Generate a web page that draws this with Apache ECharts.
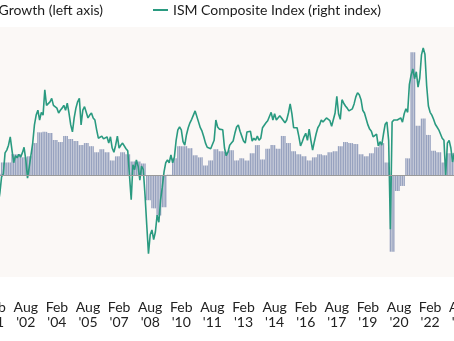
<!DOCTYPE html>
<html>
<head>
<meta charset="utf-8">
<script src="https://cdn.jsdelivr.net/npm/echarts/dist/echarts.min.js"></script>
<style>
html,body{margin:0;padding:0;background:#ffffff;}
#chart{width:454px;height:341px;}
</style>
</head>
<body>
<div id="chart"></div>
<script>
// Months shown on the category axis: Jan 2001 .. Dec 2023
const monthNames = ['Jan','Feb','Mar','Apr','May','Jun','Jul','Aug','Sep','Oct','Nov','Dec'];
const firstYear = 2001, lastYear = 2023;
const categories = [];
for (let y = firstYear; y <= lastYear; y++) {
  for (let m = 0; m < 12; m++) categories.push(monthNames[m] + " '" + String(y).slice(2));
}

const tickLabels = ["Feb '01","Aug '02","Feb '04","Aug '05","Feb '07","Aug '08","Feb '10","Aug '11",
  "Feb '13","Aug '14","Feb '16","Aug '17","Feb '19","Aug '20","Feb '22","Aug '23"];

// Quarterly GDP growth (%), each quarter drawn over three monthly bars; first quarter starts at month index 2 (Mar '01)
const gdpStartIndex = 2;
const gdpGrowth = [0.2,
  1.3,1.3,2.1,2.1,1.8,1.9,3.2,4.25,4.3,4.2,
  3.5,3.3,3.9,3.6,3.4,3.0,3.2,2.9,2.3,2.6,
  2.3,1.5,1.9,2.3,2.1,1.4,1.4,1.2,-2.4,-3.2,
  -3.9,-3.1,0.1,1.7,2.9,2.9,2.7,2.0,1.8,1.0,
  1.5,2.6,2.4,2.35,2.5,1.5,1.7,1.5,2.2,3.0,
  1.6,2.65,3.0,2.65,3.9,3.2,2.4,2.1,1.9,1.5,
  1.8,2.1,2.0,2.3,2.4,2.9,3.3,3.2,3.1,2.1,
  1.9,2.2,2.8,3.2,1.3,-7.45,-1.5,-1.0,1.7,12.1,
  4.9,5.6,4.0,2.45,2.3,1.3,2.2,2.2];

// Monthly ISM composite index, starting at month index 3 (Apr '01)
const ismStartIndex = 3;
const ismComposite = [
  42.9,44.6,46.9,47.3,50.3,50.7,51.4,52.6,50.7,48.9,
  49.9,49.6,50.1,49.7,50.3,51.1,49.3,46.7,48.3,50.0,
  51.7,54.3,55.7,56.4,55.0,56.1,55.7,59.3,57.1,57.1,
  57.6,58.1,57.1,57.0,56.7,56.0,56.4,56.7,57.1,56.4,
  57.4,56.0,54.3,53.3,55.3,56.7,57.6,58.1,54.3,56.4,
  56.9,56.7,55.3,55.7,56.0,55.3,55.0,53.6,52.4,52.4,
  52.7,52.3,52.4,52.6,51.7,52.6,51.0,50.4,51.4,52.7,
  51.0,51.4,51.7,51.7,50.9,50.6,50.4,43.6,48.6,47.9,
  49.3,48.4,46.4,48.4,47.9,44.3,40.0,35.9,38.6,39.3,
  37.9,39.0,41.4,40.4,43.6,45.4,47.6,48.9,49.3,48.9,
  50.0,48.9,49.7,52.1,53.6,54.0,53.6,51.9,51.4,52.9,
  53.9,54.6,55.1,55.7,56.3,56.1,54.7,53.9,53.4,52.6,
  51.7,51.1,50.9,50.9,50.7,52.1,55.0,54.0,53.7,53.6,
  53.6,51.0,49.9,50.4,51.4,51.7,52.0,53.1,54.0,54.3,
  53.4,52.7,52.0,51.7,53.3,53.4,53.4,52.0,52.4,52.1,
  52.7,52.1,52.4,53.9,54.1,54.6,54.9,55.1,56.1,55.0,
  55.9,55.0,55.0,55.6,55.3,55.4,54.6,55.0,56.0,57.3,
  55.9,53.9,54.1,53.9,52.7,51.3,51.9,52.6,53.1,52.1,
  53.7,52.1,50.7,51.9,53.0,53.9,54.3,55.0,54.7,55.0,
  55.3,55.4,54.9,54.1,54.3,56.0,58.4,55.9,55.1,57.9,
  57.4,57.0,56.7,56.3,56.4,56.6,57.3,58.3,58.9,58.6,
  57.9,56.4,56.0,56.1,54.3,53.7,53.4,52.6,52.4,53.0,
  51.3,51.9,51.4,53.0,54.4,54.7,52.1,39.4,54.7,55.0,
  55.1,55.0,55.1,55.3,54.7,55.9,56.6,56.1,60.1,61.4,
  62.3,60.9,61.9,59.7,61.0,64.3,65.3,64.4,59.9,57.0,
  56.1,55.7,55.1,54.4,54.0,53.6,53.4,52.4,52.1,47.1,
  51.7,52.1,51.0,49.0,50.3];

const seriesNames = ['Real GDP Growth (left axis)', 'ISM Composite Index (right index)'];

// Build monthly series arrays aligned to categories
const barData = categories.map(() => null);
gdpGrowth.forEach((v, k) => {
  for (let j = 0; j < 3; j++) {
    const idx = gdpStartIndex + 3 * k + j;
    if (idx < barData.length) barData[idx] = v;
  }
});
const lineData = categories.map(() => null);
ismComposite.forEach((v, i) => { lineData[ismStartIndex + i] = v; });

const chart = echarts.init(document.getElementById('chart'), null, {renderer: 'canvas'});
const font = 'Lato, "Noto Sans", sans-serif';
chart.setOption({
  animation: false,
  backgroundColor: '#ffffff',
  legend: [
    {
      data: [seriesNames[0]],
      right: 351, top: 3, padding: 0,
      itemWidth: 15, itemHeight: 10, icon: 'rect',
      textStyle: {fontFamily: font, fontSize: 14, color: '#1c1c1c', lineHeight: 14}
    },
    {
      data: [seriesNames[1]],
      left: 153, top: 3, padding: 0,
      itemWidth: 15, itemHeight: 2, icon: 'rect',
      textStyle: {fontFamily: font, fontSize: 14, color: '#1c1c1c', lineHeight: 14}
    }
  ],
  grid: {
    left: -7.9, right: -15, top: 27, bottom: 64,
    containLabel: false, outerBoundsMode: 'none',
    show: true, backgroundColor: '#fbf8f6', borderWidth: 0
  },
  xAxis: {
    type: 'category',
    data: categories,
    boundaryGap: true,
    axisLine: {show: false},
    axisTick: {show: false},
    splitLine: {show: false},
    axisLabel: {
      interval: (i, v) => tickLabels.indexOf(v) >= 0,
      formatter: v => v.replace(' ', '\n'),
      margin: 23,
      fontFamily: font, fontSize: 14, lineHeight: 15, color: '#222222',
      hideOverlap: false
    }
  },
  yAxis: [
    {type: 'value', min: -9.93, max: 14.58, show: false, splitLine: {show: false}},
    {type: 'value', min: 32.57, max: 68.29, show: false, splitLine: {show: false}}
  ],
  series: [
    {
      name: seriesNames[0],
      type: 'bar',
      yAxisIndex: 0,
      data: barData,
      barCategoryGap: '20%',
      itemStyle: {color: '#97a2bf'},
      markLine: {
        silent: true, symbol: 'none', label: {show: false},
        lineStyle: {color: '#9a9a9a', width: 1, type: 'solid'},
        data: [{yAxis: 0}]
      },
      z: 2
    },
    {
      name: seriesNames[1],
      type: 'line',
      yAxisIndex: 1,
      data: lineData,
      showSymbol: false,
      symbol: 'none',
      lineStyle: {color: '#2a9a80', width: 1.6},
      itemStyle: {color: '#2a9a80'},
      z: 3
    }
  ]
});
</script>
</body>
</html>
